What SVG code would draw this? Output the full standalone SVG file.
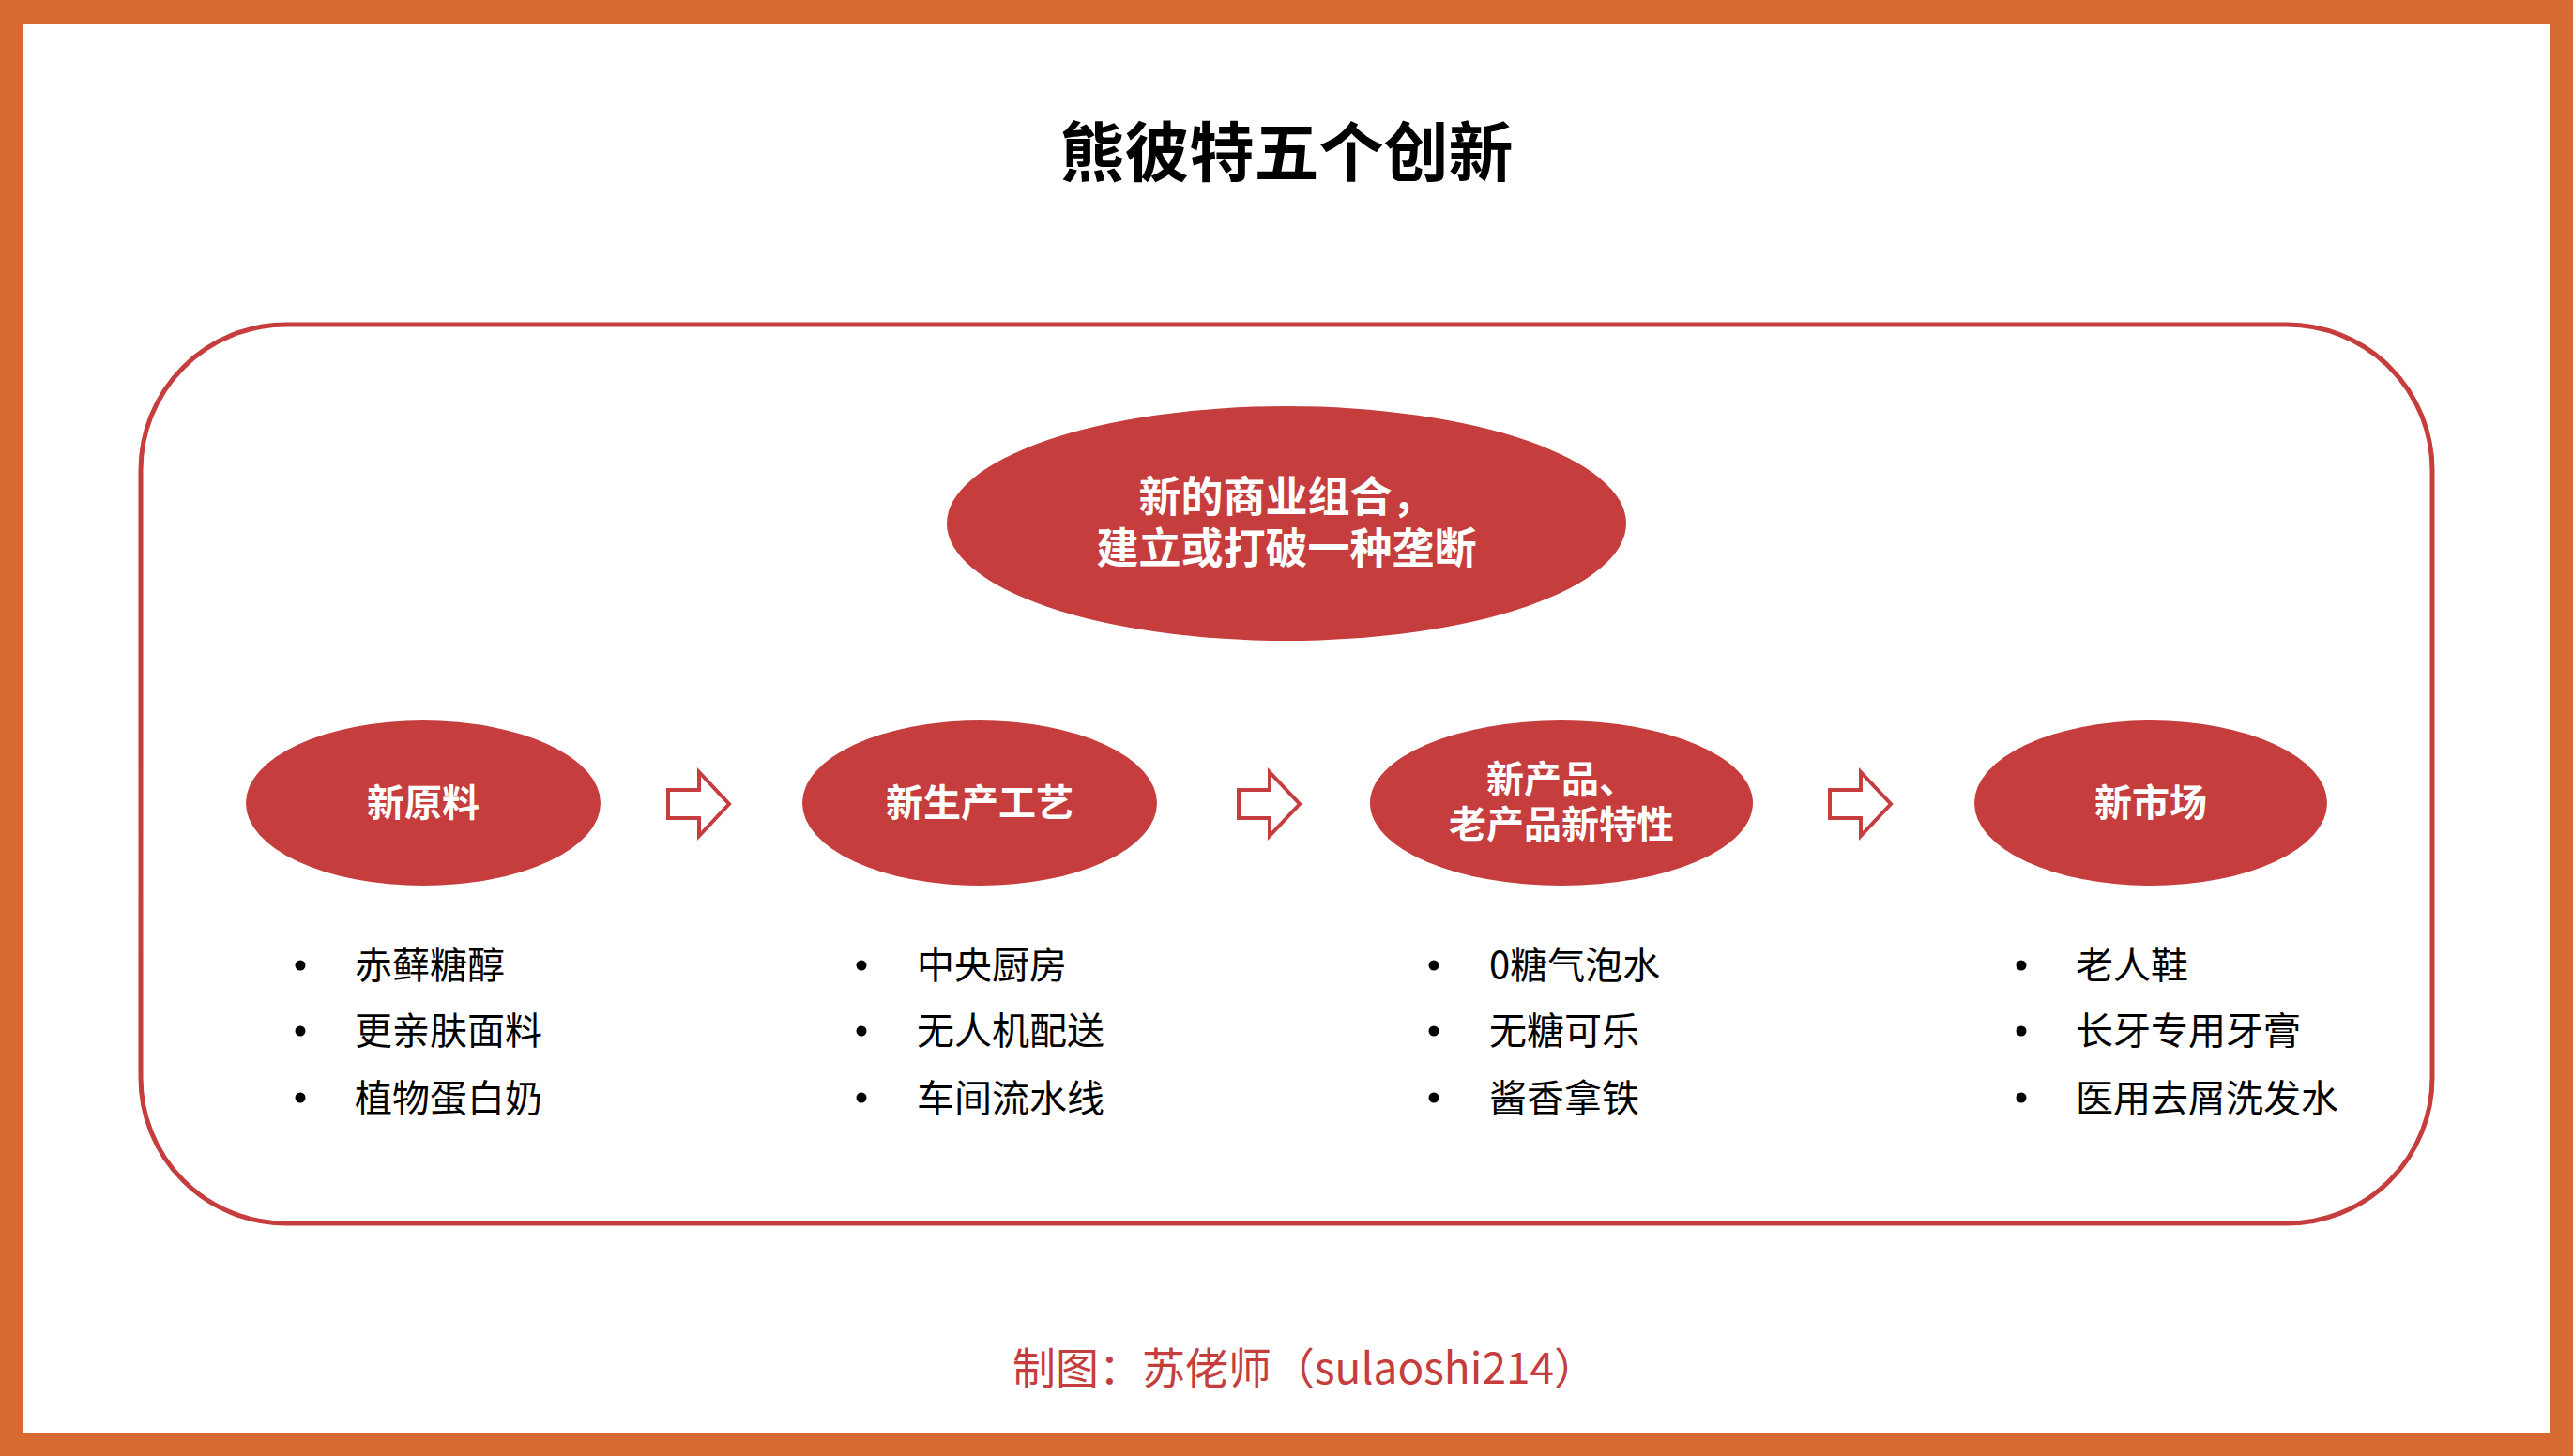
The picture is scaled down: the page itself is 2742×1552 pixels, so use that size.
<svg xmlns="http://www.w3.org/2000/svg" width="2742" height="1552" viewBox="0 0 2742 1552">
<style>
.t{font-family:"Noto Sans CJK SC","Noto Sans",sans-serif}
.title{font-size:69px;font-weight:700;fill:#000;text-anchor:middle}
.node{fill:#C53D3D}
.nl{font-size:45px;font-weight:700;fill:#fff;text-anchor:middle}
.ns{font-size:40px;font-weight:700;fill:#fff;text-anchor:middle}
.item{font-size:40px;fill:#000}
.arrow{fill:#fff;stroke:#C53D3D;stroke-width:4;stroke-linejoin:miter}
.foot{font-size:46px;fill:#C53D3D}
</style>
<defs>
<path id="arr" d="M0,0 H33 V-19 L65,15 L33,49 V30 H0 Z"/>
</defs>
<rect x="0" y="0" width="2742" height="1552" fill="#D76A31"/>
<rect x="25" y="26" width="2692" height="1502" fill="#fff"/>
<text class="t title" x="1371" y="188">熊彼特五个创新</text>
<rect x="150" y="346" width="2442" height="958" rx="155" ry="155" fill="none" stroke="#C53D3D" stroke-width="5"/>
<g id="node-center">
<ellipse class="node" cx="1371" cy="558" rx="362" ry="125"/>
<text class="t nl" x="1371" y="546">新的商业组合，</text>
<text class="t nl" x="1371" y="601">建立或打破一种垄断</text>
</g>
<g id="node-materials">
<ellipse class="node" cx="451" cy="856" rx="189" ry="88"/>
<text class="t ns" x="451" y="870">新原料</text>
</g>
<g id="node-process">
<ellipse class="node" cx="1044" cy="856" rx="189" ry="88"/>
<text class="t ns" x="1044" y="870">新生产工艺</text>
</g>
<g id="node-product">
<ellipse class="node" cx="1664" cy="856" rx="204" ry="88"/>
<text class="t ns" x="1664" y="845">新产品、</text>
<text class="t ns" x="1664" y="893">老产品新特性</text>
</g>
<g id="node-market">
<ellipse class="node" cx="2292" cy="856" rx="188" ry="88"/>
<text class="t ns" x="2292" y="870">新市场</text>
</g>
<g id="connectors">
<use href="#arr" class="arrow" x="712" y="842"/>
<use href="#arr" class="arrow" x="1320" y="842"/>
<use href="#arr" class="arrow" x="1950" y="842"/>
</g>
<g id="list-materials">
<circle cx="320" cy="1029" r="5.5"/><text class="t item" x="378" y="1043">赤藓糖醇</text>
<circle cx="320" cy="1099" r="5.5"/><text class="t item" x="378" y="1113">更亲肤面料</text>
<circle cx="320" cy="1170" r="5.5"/><text class="t item" x="378" y="1185">植物蛋白奶</text>
</g>
<g id="list-process">
<circle cx="918" cy="1029" r="5.5"/><text class="t item" x="977" y="1043">中央厨房</text>
<circle cx="918" cy="1099" r="5.5"/><text class="t item" x="977" y="1113">无人机配送</text>
<circle cx="918" cy="1170" r="5.5"/><text class="t item" x="977" y="1185">车间流水线</text>
</g>
<g id="list-product">
<circle cx="1528" cy="1029" r="5.5"/><text class="t item" x="1587" y="1043">0糖气泡水</text>
<circle cx="1528" cy="1099" r="5.5"/><text class="t item" x="1587" y="1113">无糖可乐</text>
<circle cx="1528" cy="1170" r="5.5"/><text class="t item" x="1587" y="1185">酱香拿铁</text>
</g>
<g id="list-market">
<circle cx="2154" cy="1029" r="5.5"/><text class="t item" x="2212" y="1043">老人鞋</text>
<circle cx="2154" cy="1099" r="5.5"/><text class="t item" x="2212" y="1113">长牙专用牙膏</text>
<circle cx="2154" cy="1170" r="5.5"/><text class="t item" x="2212" y="1185">医用去屑洗发水</text>
</g>
<text class="t foot" x="1079" y="1475">制图：苏佬师（sulaoshi214）</text>
</svg>
